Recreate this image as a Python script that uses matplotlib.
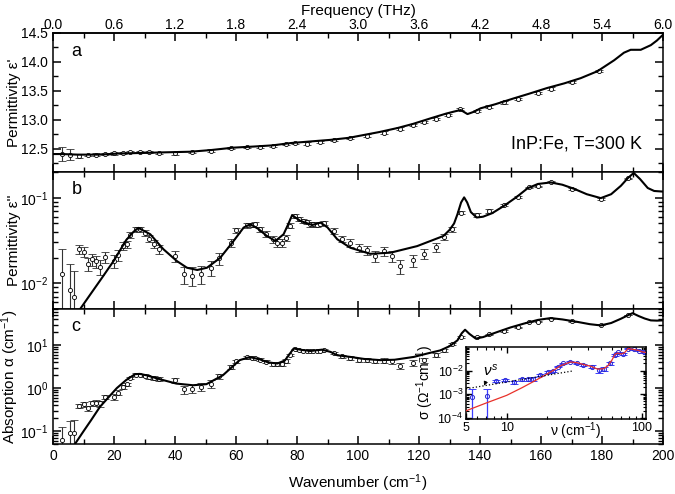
import numpy as np
import matplotlib
matplotlib.use("Agg")
import matplotlib.pyplot as plt
from matplotlib.ticker import MultipleLocator, LogLocator, NullFormatter, FixedLocator, FixedFormatter

plt.rcParams['font.family'] = ['Liberation Sans', 'DejaVu Sans']
plt.rcParams['mathtext.fontset'] = 'custom'
plt.rcParams['mathtext.rm'] = 'Liberation Sans'
plt.rcParams['mathtext.it'] = 'Liberation Sans:italic'
plt.rcParams['axes.linewidth'] = 1.1

# ---- panel a: real permittivity ----
wn_a_fit = [0, 3, 8, 15, 22, 30, 37, 45, 52, 59, 66, 72, 78, 85, 91, 97, 102, 107, 113, 118,
            124, 129, 132, 133.7, 135.9, 138, 140.2, 145, 151, 156, 162, 167.6, 173, 178.5,
            184, 187.2, 189.4, 192.7, 196, 198, 200]
eps1_fit = [12.41, 12.41, 12.40, 12.40, 12.42, 12.43, 12.44, 12.45, 12.48, 12.52, 12.54, 12.56,
            12.60, 12.63, 12.655, 12.69, 12.74, 12.79, 12.86, 12.93, 13.03, 13.11, 13.15, 13.17,
            13.10, 13.14, 13.20, 13.27, 13.37, 13.45, 13.55, 13.63, 13.72, 13.84, 14.03, 14.16,
            14.21, 14.21, 14.29, 14.37, 14.47]
wn_a = [2.9, 5.6, 8.6, 11.4, 14.1, 17.1, 20.0, 22.8, 25.4, 28.4, 31.5, 34.8, 40.1, 45.7, 51.8,
        58.2, 63.6, 68.0, 72.1, 76.3, 79.4, 83.2, 87.6, 92.0, 97.5, 102.9, 108.4, 113.8, 118.0,
        121.8, 125.7, 129.5, 133.4, 138.9, 143.0, 147.9, 152.5, 158.9, 163.2, 170.3, 179.1]
eps1 = [12.41, 12.40, 12.38, 12.39, 12.40, 12.41, 12.42, 12.43, 12.44, 12.44, 12.44, 12.43,
        12.42, 12.44, 12.47, 12.51, 12.53, 12.53, 12.55, 12.58, 12.60, 12.59, 12.62, 12.65,
        12.69, 12.73, 12.78, 12.85, 12.91, 12.96, 13.02, 13.09, 13.19, 13.15, 13.23, 13.30,
        13.36, 13.46, 13.54, 13.65, 13.84]
err_a = [0.12, 0.09, 0.03, 0.02, 0.02, 0.02, 0.02, 0.02, 0.02, 0.02, 0.02, 0.02, 0.02, 0.02,
         0.02, 0.02, 0.02, 0.02, 0.02, 0.02, 0.02, 0.02, 0.02, 0.02, 0.02, 0.02, 0.02, 0.02,
         0.02, 0.02, 0.02, 0.02, 0.02, 0.02, 0.02, 0.02, 0.02, 0.02, 0.02, 0.02, 0.02]

# ---- panel b: imaginary permittivity ----
wn_b_fit = [8.9, 12, 16, 20, 24, 26.4, 28, 31.9, 36.2, 40.6, 43.9, 47.3, 50.5, 54.8, 59.2, 62.5,
            64.7, 67.4, 70, 72.9, 75.6, 77, 78.4, 81.1, 85, 87.7, 90, 93.2, 97.5, 104, 110.7,
            119.4, 128, 130, 131.5, 132.6, 133.8, 134.8, 135.8, 137, 138.9, 141, 144, 147.9,
            152, 155.6, 159, 163.2, 167, 170.9, 175, 179.6, 183, 186.2, 188.5, 190.4, 192.5,
            195, 197.1, 200]
eps2_fit = [0.005, 0.0072, 0.0115, 0.0185, 0.032, 0.040, 0.0444, 0.0374, 0.025, 0.0182, 0.0152,
            0.0143, 0.0152, 0.0198, 0.0312, 0.0448, 0.049, 0.043, 0.036, 0.0312, 0.0374, 0.048,
            0.0625, 0.0536, 0.048, 0.0512, 0.045, 0.0327, 0.026, 0.0221, 0.0228, 0.0272, 0.0357,
            0.042, 0.050, 0.064, 0.088, 0.101, 0.088, 0.068, 0.0587, 0.060, 0.066, 0.0805, 0.102,
            0.129, 0.145, 0.151, 0.142, 0.127, 0.110, 0.099, 0.110, 0.138, 0.170, 0.195, 0.165,
            0.130, 0.120, 0.118]
wn_pts = [2.85, 5.6, 7.0, 8.6, 10.0, 11.4, 12.7, 14.1, 15.4, 17.1, 20.0, 21.4, 22.8, 24.3, 25.4,
          27.1, 28.4, 30.1, 31.5, 33.1, 34.8, 40.1, 42.8, 45.7, 48.5, 51.8, 54.3, 58.2, 60.0,
          63.6, 65.2, 66.3, 68.0, 69.9, 72.1, 73.6, 75.0, 76.3, 77.7, 79.4, 80.8, 82.1, 83.2,
          84.3, 85.4, 86.5, 87.6, 88.7, 92.0, 94.8, 97.5, 100.2, 102.9, 105.6, 108.4, 111.1,
          113.8, 118.0, 121.8, 125.7, 128.2, 130.9, 133.7, 138.9, 143.0, 147.9, 152.5, 156.2,
          158.9, 163.2, 170.3, 179.6, 188.4]
eps2 = [0.0127, 0.0084, 0.0070, 0.0249, 0.0232, 0.0169, 0.0190, 0.0180, 0.0156, 0.0202, 0.0182,
        0.0213, 0.0272, 0.0285, 0.0364, 0.0428, 0.0430, 0.0390, 0.0332, 0.0290, 0.0250, 0.0208,
        0.0127, 0.0123, 0.0128, 0.0150, 0.0195, 0.0298, 0.0416, 0.0477, 0.0480, 0.0490, 0.0430,
        0.0374, 0.0327, 0.0298, 0.0298, 0.0340, 0.0470, 0.0614, 0.0560, 0.0536, 0.0520, 0.0490,
        0.0490, 0.0485, 0.0495, 0.0510, 0.0410, 0.0330, 0.0298, 0.0260, 0.0245, 0.0208, 0.0238,
        0.0208, 0.0158, 0.0185, 0.0221, 0.0265, 0.0347, 0.0430, 0.0670, 0.0626, 0.0700, 0.0820,
        0.1010, 0.1320, 0.1360, 0.1540, 0.1270, 0.0965, 0.1690]
err_b = [0.0126, 0.0083, 0.0069, 0.003, 0.003, 0.003, 0.003, 0.003, 0.003, 0.003, 0.003, 0.003,
         0.003, 0.003, 0.003, 0.003, 0.003, 0.003, 0.003, 0.003, 0.003, 0.003, 0.003, 0.003,
         0.003, 0.003, 0.003, 0.003, 0.003, 0.003, 0.003, 0.003, 0.003, 0.003, 0.003, 0.003,
         0.003, 0.003, 0.003, 0.003, 0.003, 0.003, 0.003, 0.003, 0.003, 0.003, 0.003, 0.003,
         0.003, 0.003, 0.003, 0.003, 0.003, 0.003, 0.003, 0.003, 0.003, 0.003, 0.003, 0.003,
         0.003, 0.003, 0.003, 0.003, 0.003, 0.003, 0.003, 0.003, 0.003, 0.003, 0.003, 0.003,
         0.003]

# ---- panel c: absorption ----
wn_c_fit = [7.2, 10, 12.5, 15.4, 18, 20.9, 24, 26.9, 28.5, 30.6, 35, 40.4, 45.9, 50.3, 55.7,
            61.2, 64.5, 67.8, 70.5, 73.5, 76, 78.9, 81.5, 84.4, 88.2, 91, 93.2, 97.5, 102, 107.4,
            112, 118.3, 123, 127, 130, 132.6, 134, 135.1, 136.5, 138.6, 141, 145.7, 150, 154.4,
            159, 163.2, 167, 172, 176, 179.6, 183, 186.2, 188.5, 190, 192, 194, 196, 198, 200]
alpha_fit = [0.05, 0.099, 0.18, 0.368, 0.59, 1.0, 1.55, 2.12, 2.15, 2.0, 1.62, 1.28, 1.17, 1.24,
             2.0, 4.5, 5.3, 4.7, 4.0, 3.75, 4.4, 8.4, 7.8, 7.35, 7.9, 7.0, 5.85, 5.35, 4.8, 4.5,
             4.6, 5.35, 6.5, 7.6, 9.5, 13, 19, 23, 18.5, 14.3, 15.5, 20.4, 26, 32, 39, 43, 40,
             35, 31, 29, 33, 41.5, 50, 56, 48, 42, 38, 37.5, 38]
alpha = [0.062, 0.088, 0.091, 0.387, 0.417, 0.337, 0.44, 0.45, 0.44, 0.63, 0.63, 0.79, 1.07,
         1.22, 1.75, 2.08, 2.05, 1.95, 1.80, 1.72, 1.62, 1.53, 0.95, 0.98, 1.07, 1.28, 1.93, 3.1,
         4.2, 5.2, 5.1, 5.0, 4.6, 4.1, 3.7, 3.6, 3.7, 4.3, 6.0, 8.0, 7.7, 7.5, 7.4, 7.2, 7.3,
         7.4, 7.5, 7.6, 6.6, 5.6, 5.1, 4.6, 4.5, 4.3, 4.4, 4.2, 3.3, 3.9, 4.5, 5.85, 7.6, 10.9,
         15.6, 16.0, 18.0, 21.5, 26.6, 34.8, 35.5, 42.0, 36.0, 30.0, 51.0]
err_c = [0.06, 0.085, 0.088, 0.04, 0.05, 0.05, 0.06, 0.07, 0.07, 0.08, 0.1, 0.1, 0.11, 0.12,
         0.12, 0.13, 0.14, 0.14, 0.15, 0.16, 0.17, 0.19, 0.2, 0.22, 0.23, 0.25, 0.26, 0.28, 0.29,
         0.3, 0.31, 0.32, 0.33, 0.34, 0.35, 0.35, 0.36, 0.37, 0.37, 0.38, 0.39, 0.4, 0.4, 0.4,
         0.41, 0.42, 0.42, 0.43, 0.44, 0.46, 0.47, 0.48, 0.49, 0.5, 0.52, 0.53, 0.55, 0.57, 0.58,
         0.6, 0.62, 0.63, 0.64, 0.67, 0.69, 0.71, 0.73, 0.75, 0.76, 0.78, 0.82, 0.86, 0.9]

# ---- inset: conductivity ----
nu_in = [5.56, 7.12, 8.4, 9.7, 11.4, 12.9, 14.4, 15.6, 17.6, 20.3, 22, 24.1, 26.2, 29.5, 32.9,
         36.9, 42.5, 47.8, 52, 57.8, 62.6, 66.6, 72, 79.2, 86.8, 95, 103]
sig_in = [8e-4, 8.6e-4, 3.7e-3, 4.1e-3, 3.3e-3, 4.4e-3, 4.4e-3, 4.4e-3, 6.6e-3, 8.7e-3, 1.0e-2,
          1.46e-2, 2.0e-2, 2.4e-2, 2.0e-2, 1.7e-2, 1.46e-2, 1.03e-2, 1.2e-2, 2.0e-2, 4.5e-2,
          6.0e-2, 5.0e-2, 8.5e-2, 8.0e-2, 7.0e-2, 6.0e-2]
err_in = [7.9e-4, 8.5e-4, 4e-4, 4.5e-4, 5e-4, 6e-4, 6.5e-4, 7e-4, 8e-4, 9e-4, 1e-3, 1.1e-3,
          1.2e-3, 1.3e-3, 1.5e-3, 1.7e-3, 1.9e-3, 2.2e-3, 2.3e-3, 2.6e-3, 2.8e-3, 3e-3, 3.2e-3,
          3.6e-3, 3.9e-3, 4.3e-3, 4.6e-3]
nu_red = [5, 7, 10, 13, 16, 19, 22, 25, 29.5, 33, 37, 42, 47, 52, 56, 60, 63, 66, 70, 74, 79,
          84, 90, 95, 100, 107]
sig_red = [2.0e-4, 4.2e-4, 9e-4, 1.9e-3, 3.6e-3, 6.2e-3, 1.0e-2, 1.6e-2, 2.3e-2, 2.15e-2,
           1.8e-2, 1.5e-2, 1.15e-2, 1.2e-2, 1.6e-2, 2.8e-2, 4.8e-2, 5.5e-2, 5.0e-2, 5.6e-2,
           8.6e-2, 8.0e-2, 7.5e-2, 7.0e-2, 6.2e-2, 5.8e-2]
nu_pl = [5, 31]
sig_pl = [1.7e-3, 9.7e-3]

fig = plt.figure(figsize=(6.75, 4.94), dpi=100)
L, W = 53 / 675, 610 / 675
ax_a = fig.add_axes([L, 1 - 172 / 494, W, 139 / 494])
ax_b = fig.add_axes([L, 1 - 309 / 494, W, 137 / 494])
ax_c = fig.add_axes([L, 1 - 444 / 494, W, 135 / 494])

pt_kw = dict(fmt='o', ms=3, mfc='white', mec='black', mew=0.6, ecolor='#333333',
             elinewidth=0.8, capsize=3, capthick=0.8, zorder=2)

ax_a.errorbar(wn_a, eps1, yerr=err_a, **pt_kw)
ax_a.plot(wn_a_fit, eps1_fit, color='black', lw=1.5, zorder=3)
ax_a.set_ylim(12.1, 14.5)
ax_a.yaxis.set_major_locator(MultipleLocator(0.5))
ax_a.yaxis.set_minor_locator(MultipleLocator(0.25))
ax_a.set_ylabel("Permittivity ε'", fontsize=11)
ax_a.text(0.965, 0.2, 'InP:Fe, T=300 K', transform=ax_a.transAxes, ha='right', va='center',
          fontsize=13)

ax_b.errorbar(wn_pts, eps2, yerr=err_b, **pt_kw)
ax_b.plot(wn_b_fit, eps2_fit, color='black', lw=1.5, zorder=3)
ax_b.set_yscale('log')
ax_b.set_ylim(0.005, 0.2)
ax_b.set_ylabel("Permittivity ε''", fontsize=11)

ax_c.errorbar(wn_pts, alpha, yerr=err_c, **pt_kw)
ax_c.plot(wn_c_fit, alpha_fit, color='black', lw=1.5, zorder=3)
ax_c.set_yscale('log')
ax_c.set_ylim(0.05, 70)
ax_c.set_ylabel('Absorption α (cm$^{-1}$)', fontsize=11)
ax_c.set_xlabel('Wavenumber (cm$^{-1}$)', fontsize=11, labelpad=7)

for ax, lab in zip([ax_a, ax_b, ax_c], ['a', 'b', 'c']):
    ax.set_xlim(0, 200)
    ax.xaxis.set_major_locator(MultipleLocator(20))
    ax.xaxis.set_minor_locator(MultipleLocator(10))
    ax.tick_params(which='both', direction='in', top=True, right=True, labelsize=10)
    ax.tick_params(which='major', length=6, width=1.1)
    ax.tick_params(which='minor', length=3.5, width=1.0)
    ax.text(0.03, 0.87, lab, transform=ax.transAxes, fontsize=13, va='center')
    ax.yaxis.set_label_coords(-0.052, 0.5)
    if ax is not ax_c:
        ax.tick_params(labelbottom=False)
ax_a.tick_params(which='both', top=False)

sec = ax_a.secondary_xaxis('top', functions=(lambda x: x * 6 / 200, lambda f: f * 200 / 6))
sec.xaxis.set_major_locator(MultipleLocator(0.6))
sec.xaxis.set_minor_locator(MultipleLocator(0.3))
sec.xaxis.set_major_formatter(matplotlib.ticker.FormatStrFormatter('%.1f'))
sec.tick_params(which='both', direction='in', labelsize=10)
sec.tick_params(which='major', length=6, width=1.1, pad=1)
sec.tick_params(which='minor', length=3.5, width=1.0)
sec.set_xlabel('Frequency (THz)', fontsize=11, labelpad=2)

# inset
ins = fig.add_axes([466 / 675, 1 - 419 / 494, 180 / 675, 72 / 494])
ins.errorbar(nu_in, sig_in, yerr=err_in, fmt='o', ms=3, mfc='none', mec='#2a2ad0', mew=0.7,
             ecolor='#3c3cff', elinewidth=0.9, capsize=3, capthick=0.9, zorder=2)
ins.plot(nu_red, sig_red, color='#e8312a', lw=0.9, zorder=3)
ins.plot(nu_pl, sig_pl, color='black', lw=0.9, ls=':', zorder=3)
ins.set_xscale('log')
ins.set_yscale('log')
ins.set_xlim(5, 107)
ins.set_ylim(9e-5, 0.099)
ins.xaxis.set_major_locator(FixedLocator([5, 10, 100]))
ins.xaxis.set_major_formatter(FixedFormatter(['5', '10', '100']))
ins.xaxis.set_minor_locator(LogLocator(base=10, subs=np.arange(2, 10)))
ins.xaxis.set_minor_formatter(NullFormatter())
ins.tick_params(which='both', direction='in', top=True, right=True, labelsize=9, pad=2)
ins.tick_params(which='major', length=4, width=1.0)
ins.tick_params(which='minor', length=2, width=0.8)
ins.set_xlabel('ν (cm$^{-1}$)', fontsize=10)
ins.xaxis.set_label_coords(0.61, -0.02)
ins.xaxis.label.set_va('top')
ins.set_ylabel('σ (Ω$^{-1}$cm$^{-1}$)', fontsize=10, labelpad=1)
ins.annotate(r'$\nu^s$', xy=(6.8, 2.3e-3), xytext=(7.6, 1.0e-2), fontsize=11,
             ha='center', va='center',
             arrowprops=dict(arrowstyle='-|>', lw=0.6, color='black', mutation_scale=6,
                             shrinkA=0, shrinkB=0))

fig.savefig('out.png', dpi=100)
